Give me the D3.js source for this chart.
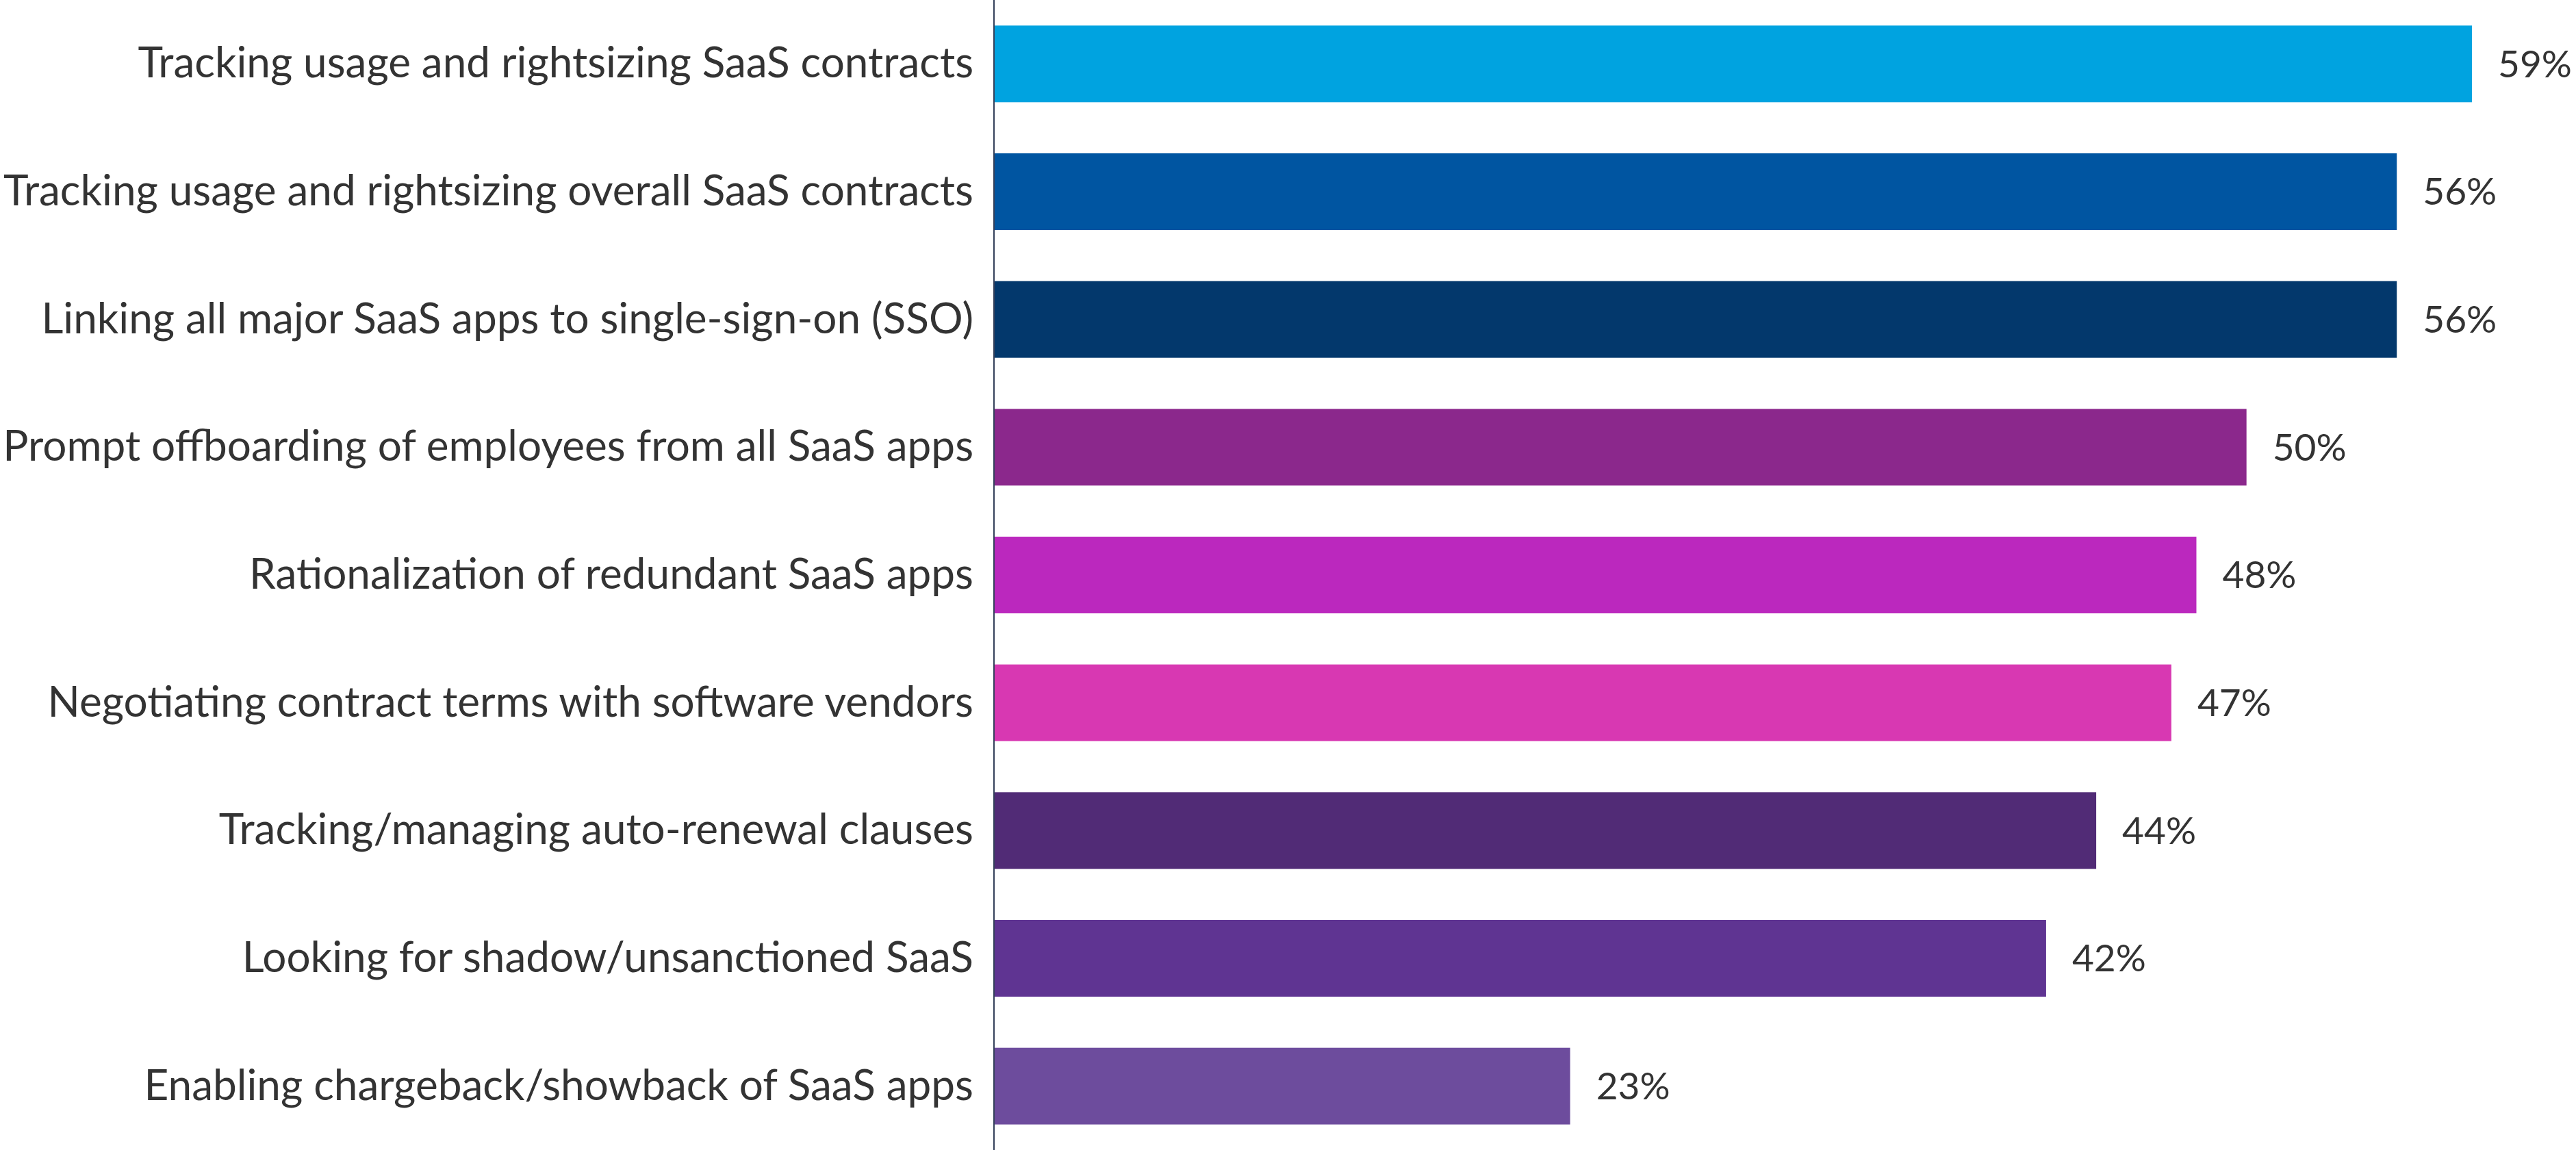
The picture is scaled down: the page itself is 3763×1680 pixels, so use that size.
<!DOCTYPE html>
<html>
<head>
<meta charset="utf-8">
<script src="https://cdn.jsdelivr.net/npm/d3@7"></script>
<style>
  html, body { margin: 0; padding: 0; background: #ffffff; }
  svg { display: block; }
</style>
</head>
<body>
<script>
const categories = [
  "Tracking usage and rightsizing SaaS contracts",
  "Tracking usage and rightsizing overall SaaS contracts",
  "Linking all major SaaS apps to single-sign-on (SSO)",
  "Prompt offboarding of employees from all SaaS apps",
  "Rationalization of redundant SaaS apps",
  "Negotiating contract terms with software vendors",
  "Tracking/managing auto-renewal clauses",
  "Looking for shadow/unsanctioned SaaS",
  "Enabling chargeback/showback of SaaS apps"
];
const values = [59, 56, 56, 50, 48, 47, 44, 42, 23];
const barColors = ["#00A3E0", "#0055A1", "#03386C", "#8B288C", "#BB28BE", "#D838B2", "#512B76", "#5F3492", "#6D4C9D"];

const W = 3763, H = 1680;
const axisX = 1452;
const fontFamily = "'Source Sans Pro', Lato, 'Noto Sans', sans-serif";

const svg = d3.select("body").append("svg").attr("width", W).attr("height", H);

const x = d3.scaleLinear().domain([0, 59]).range([axisX, 3611]);
const y = d3.scaleBand().domain(categories).range([0, H]).paddingInner(0.4).paddingOuter(0.2);

// bars
svg.append("g").selectAll("rect")
  .data(categories)
  .join("rect")
  .attr("x", x(0))
  .attr("y", d => y(d))
  .attr("width", (d, i) => x(values[i]) - x(0))
  .attr("height", y.bandwidth())
  .attr("fill", (d, i) => barColors[i]);

// category axis (labels only)
const yAxis = svg.append("g")
  .attr("transform", `translate(${axisX},0)`)
  .call(d3.axisLeft(y).tickSize(0).tickPadding(30));
yAxis.select(".domain").remove();
yAxis.selectAll("text")
  .attr("fill", "#333333")
  .style("font-family", fontFamily)
  .style("font-size", "64px");

// fit font size so the longest label spans the measured width
let maxW = 0;
yAxis.selectAll("text").each(function() { maxW = Math.max(maxW, this.getComputedTextLength()); });
const fs = 64 * 1418 / maxW;
yAxis.selectAll("text").style("font-size", fs + "px");

// vertical axis line
svg.append("line")
  .attr("x1", axisX).attr("x2", axisX)
  .attr("y1", 0).attr("y2", H)
  .attr("stroke", "#34405a")
  .attr("stroke-width", 2);

// value labels
const vLabels = svg.append("g").selectAll("text")
  .data(categories)
  .join("text")
  .attr("x", (d, i) => x(values[i]) + 38)
  .attr("y", d => y(d) + y.bandwidth() / 2)
  .attr("dy", "0.35em")
  .attr("fill", "#333333")
  .style("font-family", fontFamily)
  .style("font-size", fs + "px")
  .text((d, i) => values[i] + "%");

// fit value label size so the "59%" label matches the reference width (~110px)
let vW = 0;
vLabels.each(function() { vW = Math.max(vW, this.getComputedTextLength()); });
const vfs = fs * Math.min(1, 108 / vW);
vLabels.style("font-size", vfs + "px");
</script>
</body>
</html>
